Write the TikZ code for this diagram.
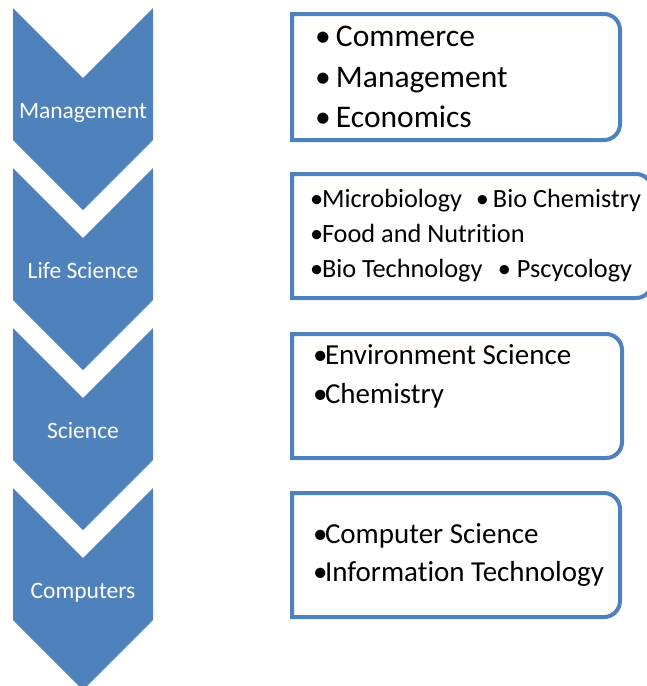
\documentclass[tikz,border=0pt]{standalone}
\usepackage{fontspec}
\setmainfont{Carlito}[Ligatures={NoCommon,NoContextual}]
\usepackage{xcolor}
\usetikzlibrary{positioning}
\definecolor{chevblue}{RGB}{79,129,189}
\tikzset{x=1pt, y=-1pt,
  chev/.style={fill=chevblue, draw=none},
  chevlabel/.style={text=white, anchor=base, font=\fontsize{23.5}{28}\selectfont},
  listbox/.style={minimum width=#1, minimum height=124pt, inner sep=0pt, outer sep=0pt},
  boxline/.style={draw=chevblue, line width=4pt},
  items/.style={align=left, inner sep=0pt, outer sep=0pt}
}

\begin{document}
\begin{tikzpicture}
\useasboundingbox (0,0) rectangle (646,686);

% chevrons down the left side
\foreach \i/\lbl in {0/Management,1/Life Science,2/Science,3/Computers}
{
  \pgfmathsetmacro\t{8+160*\i}
  \fill[chev] (13,\t) -- (83,\t+70) -- (153,\t) -- (153,\t+132)
    -- (83,\t+202) -- (13,\t+132) -- cycle;
  \node[chevlabel] (c\i) at (83,\t+110) {\lbl};
}

% boxes on the right
\node[listbox=328pt, minimum height=126pt] (b1) at (456,77) {};
\node[listbox=360pt] (b2) at (472,236) {};
\node[listbox=330pt] (b3) at (457,396) {};
\node[listbox=328pt] (b4) at (456,555) {};

\foreach \b in {b1,b2,b3,b4}
  \draw[boxline] (\b.north west) -- ([xshift=-16pt]\b.north east)
    arc[start angle=90, end angle=0, radius=16pt] -- ([yshift=16pt]\b.south east)
    arc[start angle=0, end angle=-90, radius=16pt] -- (\b.south west) -- cycle;

\node[items, right=23pt of b1.west, font=\fontsize{31.5}{40.5}\selectfont] (t1)
  {\makebox[21pt][l]{•}Commerce\\ \makebox[21pt][l]{•}Management\\ \makebox[21pt][l]{•}Economics};
\node[items, right=18pt of b2.west, font=\fontsize{26.3}{35}\selectfont] (t2)
  {\makebox[166pt][l]{\makebox[12pt][l]{•}Microbiology}\makebox[17pt][l]{•}Bio Chemistry\\
   \makebox[12pt][l]{•}Food and Nutrition\\
   \makebox[188pt][l]{\makebox[12pt][l]{•}Bio Technology}\makebox[19pt][l]{•}Pscycology};
\node[items, right=21pt of b3.west, yshift=19.5pt, font=\fontsize{29}{39}\selectfont] (t3)
  {\makebox[12pt][l]{•}Environment Science\\ \makebox[12pt][l]{•}Chemistry};
\node[items, right=21pt of b4.west, font=\fontsize{29}{38.5}\selectfont] (t4)
  {\makebox[12pt][l]{•}Computer Science\\ \makebox[12pt][l]{•}Information Technology};
\end{tikzpicture}
\end{document}
